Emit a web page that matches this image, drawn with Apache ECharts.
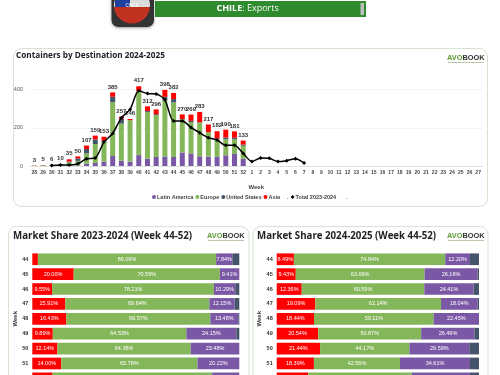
<!DOCTYPE html>
<html>
<head>
<meta charset="utf-8">
<title>Chile exports</title>
<style>
  html, body { margin: 0; padding: 0; background: #fff; overflow: hidden; }
  /* the lower cards run past the bottom of the window */
  #chart { width: 500px; height: 400px; }
</style>
<script src="https://cdn.jsdelivr.net/npm/echarts@6/dist/echarts.min.js"></script>
</head>
<body>
<div id="chart"></div>
<script>
const weeks = ['28','29','30','31','32','33','34','35','36','37','38','39','40','41','42','43','44','45','46','47','48','49','50','51','52',
  '1','2','3','4','5','6','7','8','9','10','11','12','13','14','15','16','17','18','19','20','21','22','23','24','25','26','27'];

// 2024-2025 containers, weeks 28 to 52
const latinAmerica = [0,0,1,1,1,2,12,16,23,52,28,23,57,38,47,50,47,71,66,51,49,48,56,63,38];
const europe = [2,3,3,6,18,25,54,99,104,282,194,217,334,245,219,294,286,172,163,176,128,93,84,77,68];
const unitedStates = [0,1,1,1,5,13,23,24,5,28,25,0,1,5,5,18,17,2,7,2,0,4,9,8,6];
const asia = [1,1,1,2,11,10,18,20,21,23,10,6,25,24,25,36,32,25,33,54,40,37,41,33,21];
const totals = [3,5,6,10,35,50,107,159,153,385,257,246,417,312,296,398,382,270,269,283,217,182,190,181,133];

// previous season, starts at week 30 and stops at week 7
const total2324 = [null,null,2,5,5,12,38,42,125,170,252,296,393,379,377,346,235,235,202,174,148,136,108,108,66,23,42,40,23,28,38,16];

const shareWeeks = ['44','45','46','47','48','49','50','51','52'];

const asia2324 = [2.70,20.00,9.55,15.91,16.43,9.89,12.14,14.00,9.80];
const europe2324 = [86.09,70.59,78.21,69.64,69.57,64.53,64.38,65.78,77.10];
const latam2324 = [7.84,9.41,10.29,12.15,13.48,24.15,23.48,20.22,13.10];
const us2324 = [3.37,0,1.95,2.30,0.52,1.43,0,0,0];

const asia2425 = [8.49,9.43,12.36,19.09,18.44,20.54,21.44,18.39,15.60];
const europe2425 = [74.84,63.66,60.59,62.14,59.11,50.87,44.17,42.56,51.20];
const latam2425 = [12.20,26.16,24.41,18.04,22.45,26.49,29.59,34.61,28.70];
const us2425 = [4.47,0.75,2.64,0.73,0,2.10,4.80,4.44,4.50];

const PURPLE = '#7b58a6';
const GREEN = '#84b65a';
const SLATE = '#44546a';
const RED = '#ff0000';
const SANS = '"Liberation Sans", Arial, sans-serif';
const TITLE_FONT = '"Open Sans", "Noto Sans", sans-serif';

const card = (x, y, w, h) => ({
  type: 'rect',
  shape: { x, y, width: w, height: h, r: 8 },
  style: { fill: '#fff', stroke: '#d6e3d0', lineWidth: 1 }
});

const logo = (x, y) => [
  {
    type: 'text',
    x, y,
    style: {
      text: '{a|AVO}{b|BOOK}',
      rich: {
        a: { fill: '#5c9a2e', font: 'bold 7.4px ' + SANS },
        b: { fill: '#333', font: 'bold 7.4px ' + SANS }
      }
    }
  },
  {
    type: 'rect',
    shape: { x: x + 1, y: y + 8, width: 36, height: 1 },
    style: { fill: '#b9c9ae' }
  }
];

const shareSeries = (index, values, name, color, minLabel) => ({
  name,
  type: 'bar',
  stack: 'share' + index,
  xAxisIndex: index,
  yAxisIndex: index,
  data: values,
  barWidth: 11.7,
  itemStyle: { color },
  label: {
    show: minLabel < 100,
    position: 'inside',
    color: '#fff',
    fontSize: 5.5,
    fontFamily: SANS,
    formatter: (p) => (p.value < minLabel ? '' : p.value.toFixed(2) + '%')
  }
});

const stackBar = (name, values, color) => ({
  name,
  type: 'bar',
  stack: 'containers',
  data: values,
  barWidth: 5,
  itemStyle: { color }
});

const titleStyle = (fontSize) => ({ fontSize, fontWeight: 'bold', color: '#222', fontFamily: TITLE_FONT });

const chart = echarts.init(document.getElementById('chart'));

chart.setOption({
  animation: false,
  backgroundColor: '#fff',
  title: [
    { text: 'Containers by Destination 2024-2025', left: 16, top: 52, padding: 0, textStyle: titleStyle(8.2) },
    { text: 'Market Share 2023-2024 (Week 44-52)', left: 13, top: 231, padding: 0, textStyle: titleStyle(9.7) },
    { text: 'Market Share 2024-2025 (Week 44-52)', left: 257, top: 231, padding: 0, textStyle: titleStyle(9.7) }
  ],
  legend: {
    left: 152,
    top: 194,
    padding: 0,
    itemWidth: 4,
    itemHeight: 4,
    itemGap: 2,
    textStyle: { fontSize: 5.5, fontWeight: 'bold', color: '#444', fontFamily: SANS, padding: [0, 0, 0, -4] },
    data: [
      { name: 'Latin America', icon: 'circle' },
      { name: 'Europe', icon: 'circle' },
      { name: 'United States', icon: 'circle' },
      { name: 'Asia', icon: 'circle' },
      { name: '.', icon: 'circle' },
      { name: 'Total 2023-2024', icon: 'diamond' }
    ]
  },
  grid: [
    { left: 30, right: 17.5, top: 70.4, height: 95.6 },
    { left: 32.3, width: 207, top: 251.8, height: 134 },
    { left: 276.7, width: 202.3, top: 251.8, height: 134 }
  ],
  xAxis: [
    {
      type: 'category',
      gridIndex: 0,
      data: weeks,
      name: 'Week',
      nameLocation: 'middle',
      nameGap: 18,
      nameTextStyle: { fontSize: 6, fontWeight: 'bold', color: '#444', fontFamily: SANS },
      axisTick: { show: false },
      axisLine: { lineStyle: { color: '#e0e0e0' } },
      axisLabel: { interval: 0, fontSize: 5, fontWeight: 'bold', color: '#444', margin: 4, fontFamily: SANS }
    },
    { type: 'value', gridIndex: 1, min: 0, max: 100, show: false },
    { type: 'value', gridIndex: 2, min: 0, max: 100, show: false }
  ],
  yAxis: [
    {
      type: 'value',
      gridIndex: 0,
      min: 0,
      max: 500,
      interval: 200,
      axisLine: { show: false },
      axisTick: { show: false },
      axisLabel: { fontSize: 5.5, color: '#555', margin: 7, showMaxLabel: false, fontFamily: SANS },
      splitLine: { showMaxLine: false, lineStyle: { color: '#e8e8e8', type: 'dotted', width: 1 } }
    },
    ...[1, 2].map((i) => ({
      type: 'category',
      gridIndex: i,
      inverse: true,
      data: shareWeeks,
      name: 'Week',
      nameLocation: 'middle',
      nameGap: 11,
      nameTextStyle: { fontSize: 6, fontWeight: 'bold', color: '#333', fontFamily: SANS },
      axisLine: { show: false },
      axisTick: { show: false },
      axisLabel: { interval: 0, fontSize: 5.5, fontWeight: 'bold', color: '#333', margin: 4, fontFamily: SANS }
    }))
  ],
  series: [
    stackBar('Latin America', latinAmerica, PURPLE),
    stackBar('Europe', europe, GREEN),
    stackBar('United States', unitedStates, SLATE),
    stackBar('Asia', asia, RED),
    {
      // carries the total labels over the stacks
      name: '.',
      type: 'line',
      data: totals,
      symbol: 'circle',
      symbolSize: 1,
      showAllSymbol: true,
      silent: true,
      itemStyle: { color: 'transparent' },
      lineStyle: { opacity: 0 },
      label: { show: true, position: 'top', distance: 2, fontSize: 6, fontWeight: 'bold', color: '#333', fontFamily: SANS }
    },
    {
      name: 'Total 2023-2024',
      type: 'line',
      data: total2324,
      smooth: 0.25,
      symbol: 'diamond',
      symbolSize: 4,
      showAllSymbol: true,
      z: 5,
      itemStyle: { color: '#000' },
      lineStyle: { color: '#000', width: 1.5 }
    },
    shareSeries(1, asia2324, 'Asia 23', RED, 5),
    shareSeries(1, europe2324, 'Europe 23', GREEN, 5),
    shareSeries(1, latam2324, 'Latin America 23', PURPLE, 5),
    shareSeries(1, us2324, 'United States 23', SLATE, 100),
    shareSeries(2, asia2425, 'Asia 24', RED, 5),
    shareSeries(2, europe2425, 'Europe 24', GREEN, 5),
    shareSeries(2, latam2425, 'Latin America 24', PURPLE, 5),
    shareSeries(2, us2425, 'United States 24', SLATE, 100)
  ],
  graphic: [
    // header badge and title bar
    {
      type: 'rect',
      shape: { x: 155, y: 1, width: 211, height: 16 },
      style: { fill: '#2e8b2e' }
    },
    {
      type: 'rect',
      shape: { x: 360.5, y: 3, width: 3.5, height: 12 },
      style: { fill: '#bdbdbd' }
    },
    {
      type: 'text',
      x: 216.5,
      y: 4,
      style: {
        text: '{b|CHILE}{n|: Exports}',
        rich: {
          b: { fill: '#fff', font: 'bold 9px ' + TITLE_FONT },
          n: { fill: '#fff', font: '9px ' + TITLE_FONT }
        }
      }
    },
    {
      type: 'rect',
      shape: { x: 111.5, y: -10, width: 42.5, height: 37, r: 7 },
      style: { fill: '#333', shadowBlur: 3, shadowColor: 'rgba(0,0,0,0.4)', shadowOffsetY: 1 }
    },
    {
      type: 'circle',
      shape: { cx: 132, cy: 5.5, r: 18 },
      style: {
        fill: new echarts.graphic.LinearGradient(0, 0, 0, 1, [
          { offset: 0, color: '#dcdcdc' },
          { offset: 0.53, color: '#dcdcdc' },
          { offset: 0.53, color: '#c0321f' },
          { offset: 1, color: '#c0321f' }
        ])
      }
    },
    {
      type: 'rect',
      shape: { x: 115, y: 0, width: 15, height: 7 },
      style: { fill: '#1f3f9e' }
    },
    {
      type: 'text',
      x: 125.5,
      y: 3.5,
      style: { text: 'CHILE', fill: '#fff', font: '4.5px ' + SANS }
    },
    // cards
    card(13.5, 48.5, 474, 158),
    card(8.5, 226.5, 240.5, 170),
    card(253, 226.5, 235, 170),
    ...logo(447, 54),
    ...logo(207, 232),
    ...logo(447, 232),
    {
      type: 'text',
      x: 346,
      y: 194,
      style: { text: '.', fill: '#444', font: 'bold 5.5px ' + SANS }
    }
  ]
});
</script>
</body>
</html>
